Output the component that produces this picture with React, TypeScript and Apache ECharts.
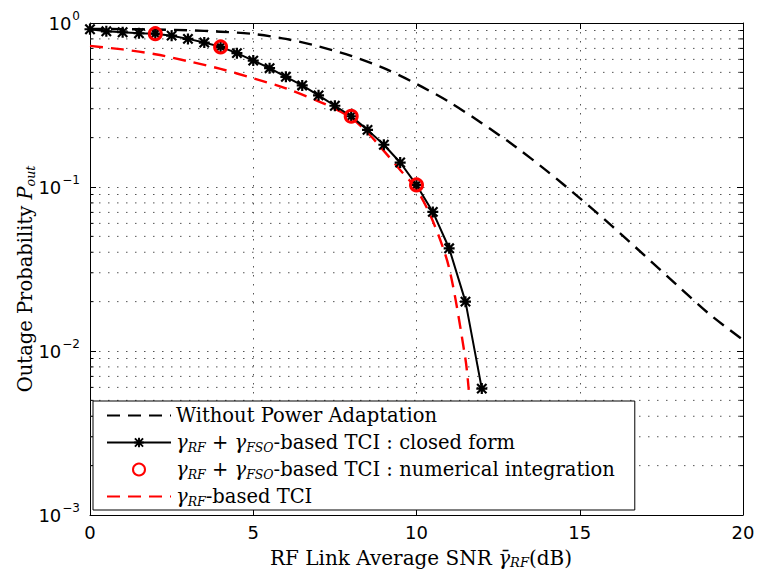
import React, { useEffect, useRef } from "react";
import * as echarts from "echarts";

// ---------- data ----------
const closedX = [0, 0.5, 1, 1.5, 2, 2.5, 3, 3.5, 4, 4.5, 5, 5.5, 6, 6.5, 7, 7.5, 8, 8.5, 9, 9.5, 10, 10.5, 11, 11.5, 12];
const closedVals = [0.916, 0.89, 0.878, 0.866, 0.861, 0.837, 0.8, 0.76, 0.715, 0.655, 0.59, 0.53, 0.47, 0.416, 0.362, 0.313, 0.27, 0.223, 0.181, 0.141, 0.103, 0.0705, 0.0423, 0.02, 0.0059];

const numX = [2, 4, 8, 10];
const numVals = [0.861, 0.715, 0.27, 0.103];

const noAdaptX = [0, 1, 2, 3, 4, 5, 6, 7, 8, 9, 10, 11, 12, 13, 14, 15, 16, 17, 18, 19, 20];
const noAdaptVals = [0.92, 0.918, 0.912, 0.903, 0.885, 0.857, 0.8, 0.72, 0.63, 0.53, 0.425, 0.33, 0.245, 0.178, 0.125, 0.0855, 0.0575, 0.038, 0.025, 0.0166, 0.0117];

const rfX = [0, 1, 2, 3, 4, 5, 6, 7, 7.5, 8, 8.5, 9, 9.5, 10, 10.5, 11, 11.5, 11.6];
const rfVals = [0.725, 0.69, 0.645, 0.585, 0.525, 0.46, 0.4, 0.333, 0.3, 0.264, 0.215, 0.166, 0.127, 0.097, 0.062, 0.032, 0.0089, 0.0058];

const xTicks = [0, 5, 10, 15, 20];
const yMinorTicks = [
  0.002, 0.003, 0.004, 0.005, 0.006, 0.007, 0.008, 0.009,
  0.02, 0.03, 0.04, 0.05, 0.06, 0.07, 0.08, 0.09,
  0.2, 0.3, 0.4, 0.5, 0.6, 0.7, 0.8, 0.9,
];

const NAME_NOADAPT = "Without Power Adaptation";
const NAME_CLOSED = "γRF + γFSO-based TCI : closed form";
const NAME_NUM = "γRF + γFSO-based TCI : numerical integration";
const NAME_RF = "γRF-based TCI";

const legendLabels: Record<string, string> = {
  [NAME_NOADAPT]: "Without Power Adaptation",
  [NAME_CLOSED]: "{it|γ}{sub|RF} + {it|γ}{sub|FSO}-based TCI : closed form",
  [NAME_NUM]: "{it|γ}{sub|RF} + {it|γ}{sub|FSO}-based TCI : numerical integration",
  [NAME_RF]: "{it|γ}{sub|RF}-based TCI",
};

const SERIF = "DejaVu Serif";
const SANS = "DejaVu Sans";

const ASTERISK =
  "path://M0 8H20V12H0Z M8 0H12V20H8Z M2.9 0.1L19.9 17.1L17.1 19.9L0.1 2.9Z M17.1 0.1L19.9 2.9L2.9 19.9L0.1 17.1Z";

const gridDot = { color: "#555", width: 1, type: [1.5, 7.5] as number[] };

export default function App() {
  const ref = useRef<HTMLDivElement>(null);

  useEffect(() => {
    document.body.style.margin = "0";
    if (!ref.current) return;
    const chart = echarts.init(ref.current, null, { renderer: "svg" });

    const xMin = xTicks[0];
    const xMax = xTicks[xTicks.length - 1];

    const LF = 19.5;
    const richLegend = {
      it: { fontFamily: SERIF, fontStyle: "italic", fontSize: LF, lineHeight: 25, color: "#000" },
      sub: { fontFamily: SERIF, fontStyle: "italic", fontSize: 12.5, lineHeight: 25, padding: [10, 0, 0, 0], color: "#000" },
    };
    const richXName = {
      it: { fontFamily: SERIF, fontStyle: "italic", fontSize: 20, lineHeight: 24, color: "#000" },
      sub: { fontFamily: SERIF, fontStyle: "italic", fontSize: 13, lineHeight: 24, padding: [10, 0, 0, 0], color: "#000" },
    };
    const richYName = {
      it: { fontFamily: SERIF, fontStyle: "italic", fontSize: 19.5, lineHeight: 24, color: "#000" },
      sub: { fontFamily: SERIF, fontStyle: "italic", fontSize: 12.5, lineHeight: 24, padding: [10, 0, 0, 0], color: "#000" },
    };

    const yFmt = (v: number) => {
      const e = Math.round(Math.log10(v));
      const s = e === 0 ? "0" : "−" + -e;
      return `{b|10}{s|${s}}`;
    };

    const option: any = {
      animation: false,
      backgroundColor: "#fff",
      grid: { left: 90, right: 14, top: 23, bottom: 54, containLabel: false, outerBoundsMode: "none" },
      xAxis: [
        {
          type: "value",
          min: xMin,
          max: xMax,
          interval: 5,
          position: "bottom",
          name: "RF Link Average SNR {it|γ̄}{sub|RF}(dB)",
          nameLocation: "middle",
          nameGap: 18,
          nameTextStyle: { fontFamily: SERIF, fontSize: 20, color: "#000", lineHeight: 24, padding: [0, 0, 0, 9], rich: richXName },
          axisLine: { show: true, onZero: false, lineStyle: { color: "#000", width: 1 } },
          axisTick: { show: true, inside: true, length: 6, lineStyle: { color: "#000" } },
          axisLabel: { show: true, margin: 8, fontFamily: SANS, fontSize: 18, color: "#000" },
          splitLine: { show: true, lineStyle: gridDot },
        },
        {
          type: "value",
          min: xMin,
          max: xMax,
          interval: 5,
          position: "top",
          axisLine: { show: true, onZero: false, lineStyle: { color: "#000", width: 1 } },
          axisTick: { show: true, inside: true, length: 6, lineStyle: { color: "#000" } },
          axisLabel: { show: false },
          splitLine: { show: false },
        },
      ],
      yAxis: [
        {
          type: "log",
          logBase: 10,
          min: 0.001,
          max: 1,
          position: "left",
          name: "Outage Probability {it|P}{sub|out}",
          nameLocation: "middle",
          nameGap: 53,
          nameMoveOverlap: false,
          nameTextStyle: { fontFamily: SERIF, fontSize: 19.5, color: "#000", lineHeight: 24, padding: [0, 20, 0, 0], rich: richYName },
          axisLine: { show: true, onZero: false, lineStyle: { color: "#000", width: 1 } },
          axisTick: { show: true, inside: true, length: 6, lineStyle: { color: "#000" } },
          axisLabel: {
            show: true,
            margin: 10,
            formatter: yFmt,
            rich: {
              b: { fontFamily: SANS, fontSize: 18, color: "#000", lineHeight: 26 },
              s: { fontFamily: SANS, fontSize: 12, color: "#000", lineHeight: 26, padding: [0, 0, 14, 1] },
            },
          },
          splitLine: { show: true, lineStyle: gridDot },
          minorTick: { show: false },
        },
        {
          type: "log",
          logBase: 10,
          min: 0.001,
          max: 1,
          position: "right",
          axisLine: { show: true, onZero: false, lineStyle: { color: "#000", width: 1 } },
          axisTick: { show: true, inside: true, length: 6, lineStyle: { color: "#000" } },
          axisLabel: { show: false },
          splitLine: { show: false },
        },
      ],
      legend: {
        orient: "vertical",
        left: 93,
        top: 401,
        itemWidth: 64,
        itemHeight: 12,
        itemGap: 2,
        padding: [2, 20, 1, 13],
        backgroundColor: "#fff",
        borderColor: "#000",
        borderWidth: 1,
        borderRadius: 0,
        selectedMode: false,
        data: [
          { name: NAME_NOADAPT, itemStyle: { opacity: 0 } },
          { name: NAME_CLOSED },
          { name: NAME_NUM },
          { name: NAME_RF, itemStyle: { opacity: 0 } },
        ],
        formatter: (name: string) => legendLabels[name] || name,
        textStyle: { fontFamily: SERIF, fontSize: LF, color: "#000", lineHeight: 25, rich: richLegend },
        z: 10,
      },
      series: [
        {
          type: "custom",
          name: "minorGrid",
          xAxisIndex: 0,
          yAxisIndex: 0,
          silent: true,
          z: 1,
          data: yMinorTicks.map((v) => [xMin, v]),
          encode: { x: 0, y: 1 },
          renderItem: (params: any, api: any) => {
            const y = api.value(1);
            const pL = api.coord([xMin, y]);
            const pR = api.coord([xMax, y]);
            return {
              type: "group",
              children: [
                {
                  type: "line",
                  shape: { x1: pL[0], y1: pL[1], x2: pR[0], y2: pR[1] },
                  style: { stroke: "#555", lineWidth: 1, lineDash: [1.5, 7.5] },
                },
                {
                  type: "line",
                  shape: { x1: pL[0], y1: pL[1], x2: pL[0] + 3.5, y2: pL[1] },
                  style: { stroke: "#000", lineWidth: 1 },
                },
                {
                  type: "line",
                  shape: { x1: pR[0] - 3.5, y1: pR[1], x2: pR[0], y2: pR[1] },
                  style: { stroke: "#000", lineWidth: 1 },
                },
              ],
            };
          },
        },
        {
          type: "line",
          name: NAME_NOADAPT,
          xAxisIndex: 0,
          yAxisIndex: 0,
          z: 3,
          data: noAdaptX.map((x, i) => [x, noAdaptVals[i]]),
          symbol: "none",
          smooth: 0.3,
          lineStyle: { color: "#000", width: 2.4, type: [13, 8] },
          itemStyle: { color: "#000" },
        },
        {
          type: "line",
          name: NAME_RF,
          xAxisIndex: 0,
          yAxisIndex: 0,
          z: 4,
          data: rfX.map((x, i) => [x, rfVals[i]]),
          symbol: "none",
          smooth: 0.3,
          lineStyle: { color: "#ff0000", width: 2.4, type: [13, 8] },
          itemStyle: { color: "#ff0000" },
        },
        {
          type: "line",
          name: NAME_CLOSED,
          xAxisIndex: 0,
          yAxisIndex: 0,
          z: 5,
          data: closedX.map((x, i) => [x, closedVals[i]]),
          symbol: ASTERISK,
          symbolSize: 11,
          showAllSymbol: true,
          lineStyle: { color: "#000", width: 2 },
          itemStyle: { color: "#000" },
        },
        {
          type: "scatter",
          name: NAME_NUM,
          xAxisIndex: 0,
          yAxisIndex: 0,
          z: 6,
          data: numX.map((x, i) => [x, numVals[i]]),
          symbol: "circle",
          symbolSize: 12,
          itemStyle: { color: "rgba(0,0,0,0)", borderColor: "#ff0000", borderWidth: 3, opacity: 1 },
        },
      ],
    };

    chart.setOption(option);
    return () => chart.dispose();
  }, []);

  return <div ref={ref} style={{ width: 757, height: 569 }} />;
}
